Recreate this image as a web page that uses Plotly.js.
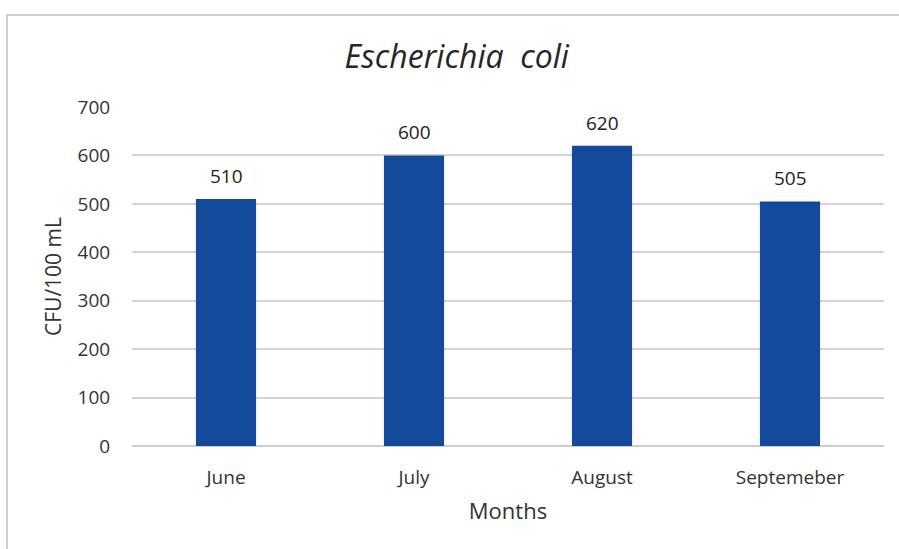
<!DOCTYPE html>
<html><head><meta charset="utf-8">
<script src="https://cdn.plot.ly/plotly-3.0.1.min.js"></script>
<style>
html,body{margin:0;padding:0;background:#fff;overflow:hidden}
#frame{position:absolute;left:6px;top:14px;width:1000px;height:1000px;border:2px solid #cfcfcf;pointer-events:none;z-index:5}
#chart{position:absolute;left:0;top:0;width:899px;height:549px}
</style></head>
<body>
<div id="chart"></div>
<div id="frame"></div>
<script>
const months = ["June", "July", "August", "Septemeber"];
const cfu = [510, 600, 620, 505];
const yTicks = [0, 100, 200, 300, 400, 500, 600, 700];

const font = "'Open Sans', 'Noto Sans', sans-serif";
const trace = {
  type: "bar", x: months, y: cfu,
  marker: {color: "#134a9c"},
  hoverinfo: "none"
};
const annotations = months.map((m, i) => ({
  x: m, y: cfu[i], text: String(cfu[i]), showarrow: false,
  yanchor: "bottom", yshift: 8, font: {family: font, size: 19, color: "#222"}
}));
const layout = {
  width: 899, height: 549,
  margin: {l: 132, r: 15, t: 107, b: 103},
  paper_bgcolor: "#fff", plot_bgcolor: "#fff",
  bargap: 0.68,
  showlegend: false,
  title: {text: "Escherichia  coli", x: 0.508, xanchor: "center", y: 0.896, yanchor: "middle",
    font: {family: font, size: 32, color: "#262626", style: "italic"}},
  xaxis: {
    tickfont: {family: font, size: 19, color: "#333"},
    ticks: "outside", ticklen: 14, tickcolor: "rgba(0,0,0,0)",
    showline: false, showgrid: false,
    title: {text: "Months", font: {family: font, size: 22, color: "#333"}, standoff: 14}
  },
  yaxis: {
    range: [0, 700], tickvals: yTicks,
    tickfont: {family: font, size: 19, color: "#333"},
    ticks: "outside", ticklen: 17, tickcolor: "rgba(0,0,0,0)",
    showgrid: true, gridcolor: "#d4d4d4", gridwidth: 2,
    zeroline: true, zerolinecolor: "#cdcdcd", zerolinewidth: 2,
    showline: false,
    title: {text: "CFU/100 mL", font: {family: font, size: 21, color: "#333"}, standoff: 10}
  },
  annotations: annotations
};
Plotly.newPlot("chart", [trace], layout, {displayModeBar: false, staticPlot: true});
</script>
</body></html>
